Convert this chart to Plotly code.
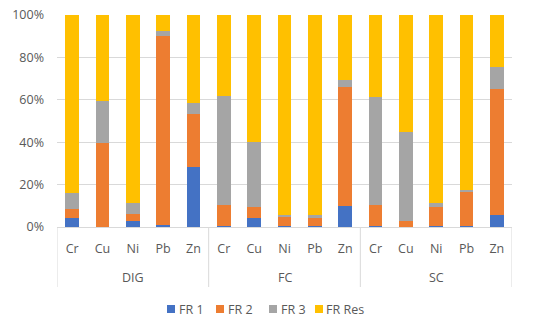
import plotly.graph_objects as go

group_names = ["DIG", "FC", "SC"]
metal_names = ["Cr", "Cu", "Ni", "Pb", "Zn"]

fr1 = [4.2, 0.2, 3.0, 1.1, 28.2, 0.6, 4.4, 0.6, 0.6, 10.0, 0.6, 0.1, 0.6, 0.5, 5.8]
fr2 = [4.4, 39.6, 3.1, 89.0, 25.1, 9.7, 5.0, 3.9, 3.8, 56.0, 9.6, 2.9, 9.0, 15.8, 59.2]
fr3 = [7.5, 19.8, 5.3, 2.2, 5.3, 51.3, 30.9, 1.3, 1.2, 3.3, 51.2, 41.7, 1.5, 1.3, 10.4]
fres = [83.9, 40.4, 88.6, 7.7, 41.4, 38.4, 59.7, 94.2, 94.4, 30.7, 38.6, 55.3, 88.9, 82.4, 24.6]

series_names = ["FR 1", "FR 2", "FR 3", "FR Res"]
series_colors = ["#4472C4", "#ED7D31", "#A5A5A5", "#FFC000"]
series_values = [fr1, fr2, fr3, fres]

y_tick_vals = [0, 20, 40, 60, 80, 100]
y_tick_text = ["0%", "20%", "40%", "60%", "80%", "100%"]

cats = [f"{g} {m}" for g in group_names for m in metal_names]
cat_labels = [m for g in group_names for m in metal_names]

TXT = "#595959"
GRID = "#D9D9D9"
FONT = "Open Sans, Liberation Sans, sans-serif"

W, H = 550, 326
L, R, T, B = 57, 38, 15, 99
PW, PH = W - L - R, H - T - B

def px_x(p):
    return (p - L) / PW

def px_y(p):
    return (H - B - p) / PH

fig = go.Figure()
for name, vals, col in zip(series_names, series_values, series_colors):
    fig.add_trace(go.Bar(x=cats, y=vals, name=name, showlegend=False,
                         marker=dict(color=col, line=dict(width=0))))

shapes = []
annotations = []
n = len(metal_names)
for i in range(len(group_names) + 1):
    shapes.append(dict(type="line", xref="x", yref="paper",
                       x0=i * n - 0.5, x1=i * n - 0.5, y0=0, y1=px_y(287),
                       line=dict(color=GRID, width=1)))
for i, g in enumerate(group_names):
    annotations.append(dict(text=g, xref="x", yref="paper", x=i * n + (n - 1) / 2,
                            y=px_y(277.5), showarrow=False, yanchor="middle",
                            font=dict(family=FONT, size=12.5, color=TXT)))

# legend
leg_sq = [167, 216, 269, 315]
leg_tx = [179, 228, 281, 326]
leg_y = 309
for name, col, sx, tx in zip(series_names, series_colors, leg_sq, leg_tx):
    shapes.append(dict(type="rect", xref="paper", yref="paper",
                       x0=px_x(sx), x1=px_x(sx + 8), y0=px_y(leg_y + 4), y1=px_y(leg_y - 4),
                       fillcolor=col, line=dict(width=0)))
    annotations.append(dict(text=name, xref="paper", yref="paper", x=px_x(tx),
                            y=px_y(leg_y), xanchor="left", yanchor="middle",
                            showarrow=False, xshift=-2,
                            font=dict(family=FONT, size=12.5, color=TXT)))

fig.update_layout(
    barmode="stack", bargap=0.56,
    width=W, height=H,
    margin=dict(l=L, r=R, t=T, b=B),
    paper_bgcolor="white", plot_bgcolor="white",
    font=dict(family=FONT, size=12.5, color=TXT),
    showlegend=False,
    shapes=shapes, annotations=annotations,
    xaxis=dict(type="category", tickvals=cats, ticktext=cat_labels,
               showline=True, linecolor=GRID, ticks="", automargin=False,
               ticklabelstandoff=10, range=[-0.5, len(cats) - 0.5],
               tickfont=dict(family=FONT, size=12.5, color=TXT)),
    yaxis=dict(range=[0, 100], tickvals=y_tick_vals, ticktext=y_tick_text,
               showgrid=True, gridcolor=GRID, zeroline=False, automargin=False,
               ticks="", ticklabelstandoff=12,
               tickfont=dict(family=FONT, size=12.5, color=TXT)),
)
fig.write_html("out.html", config={"displayModeBar": False},
               post_script="document.body.style.margin='0';")
